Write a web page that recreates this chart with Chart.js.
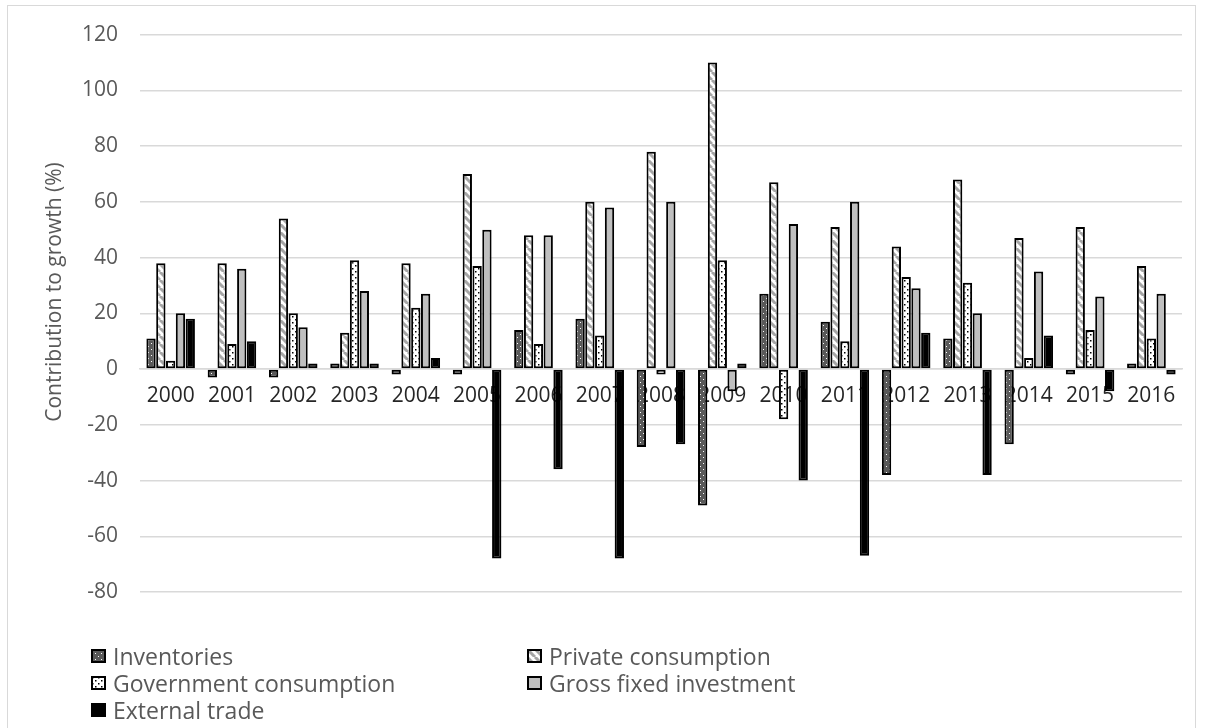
<!DOCTYPE html>
<html>
<head>
<meta charset="utf-8">
<title>Contribution to growth</title>
<script src="https://cdn.jsdelivr.net/npm/chart.js@4.4.1/dist/chart.umd.min.js"></script>
<style>
    body { margin: 0; background: #fff; overflow: hidden; }
    #wrap { position: relative; width: 1205px; height: 728px; overflow: hidden; }
    #frame { position: absolute; left: 7px; top: 5px; width: 1189px; height: 740px; border: 1px solid #d9d9d9; box-sizing: border-box; pointer-events: none; }
    #legend { position: absolute; left: 0; top: 0; font-family: "Open Sans", sans-serif; font-size: 23px; color: #595959; }
    .item { position: absolute; display: flex; align-items: center; line-height: 28px; white-space: nowrap; }
    .item canvas { margin-right: 7px; }
</style>
</head>
<body>
<div id="wrap">
    <canvas id="grafico"></canvas>
    <div id="frame"></div>
    <div id="legend"></div>
</div>
<script>
// Datos
const years = ["2000", "2001", "2002", "2003", "2004", "2005", "2006", "2007", "2008",
               "2009", "2010", "2011", "2012", "2013", "2014", "2015", "2016"];
const inventories = [11, -3, -3, 2, -2, -2, 14, 18, -28, -49, 27, 17, -38, 11, -27, -2, 2];
const privateConsumption = [38, 38, 54, 13, 38, 70, 48, 60, 78, 110, 67, 51, 44, 68, 47, 51, 37];
const governmentConsumption = [3, 9, 20, 39, 22, 37, 9, 12, -2, 39, -18, 10, 33, 31, 4, 14, 11];
const grossFixedInvestment = [20, 36, 15, 28, 27, 50, 48, 58, 60, -8, 52, 60, 29, 20, 35, 26, 27];
const externalTrade = [18, 10, 2, 2, 4, -68, -36, -68, -27, 2, -40, -67, 13, -38, 12, -8, -2];
const yTicks = [-80, -60, -40, -20, 0, 20, 40, 60, 80, 100, 120];
const yTitle = 'Contribution to growth (%)';

// Patrones de relleno (tramas tipo Excel)
function makePattern(kind) {
    const c = document.createElement('canvas');
    const ctx = c.getContext('2d');
    if (kind === 'inventories') {
        c.width = 6; c.height = 6;
        ctx.fillStyle = '#595959';
        ctx.fillRect(0, 0, 6, 6);
        ctx.fillStyle = '#ffffff';
        ctx.fillRect(1, 1, 1, 1);
        ctx.fillRect(4, 4, 1, 1);
    } else if (kind === 'government') {
        c.width = 6; c.height = 6;
        ctx.fillStyle = '#ffffff';
        ctx.fillRect(0, 0, 6, 6);
        ctx.fillStyle = '#000000';
        ctx.fillRect(1, 1, 1.5, 1.5);
        ctx.fillRect(4, 4, 1.5, 1.5);
    } else if (kind === 'private') {
        c.width = 8; c.height = 8;
        ctx.fillStyle = '#ffffff';
        ctx.fillRect(0, 0, 8, 8);
        ctx.strokeStyle = '#a6a6a6';
        ctx.lineWidth = 3;
        [-8, 0, 8].forEach(o => {
            ctx.beginPath();
            ctx.moveTo(o, 0);
            ctx.lineTo(o + 8, 8);
            ctx.stroke();
        });
    }
    return ctx.createPattern(c, 'repeat');
}

const series = [
    { label: "Inventories", data: inventories, fill: makePattern('inventories'), border: '#000' },
    { label: "Private consumption", data: privateConsumption, fill: makePattern('private'), border: '#000' },
    { label: "Government consumption", data: governmentConsumption, fill: makePattern('government'), border: '#000' },
    { label: "Gross fixed investment", data: grossFixedInvestment, fill: '#bfbfbf', border: '#000' },
    { label: "External trade", data: externalTrade, fill: '#000000', border: '#000' }
];

const fontFam = '"Open Sans", sans-serif';

// Título del eje Y dibujado a mano (en el original está algo por encima del centro)
const yTitlePlugin = {
    id: 'yTitle',
    afterDraw(chart) {
        const ctx = chart.ctx;
        ctx.save();
        ctx.translate(55, 292);
        ctx.rotate(-Math.PI / 2);
        ctx.font = '21px ' + fontFam;
        ctx.fillStyle = '#595959';
        ctx.textAlign = 'center';
        ctx.textBaseline = 'middle';
        ctx.fillText(yTitle, 0, 0);
        ctx.restore();
    }
};

new Chart(document.getElementById('grafico'), {
    type: 'bar',
    data: {
        labels: years,
        datasets: series.map(s => ({
            label: s.label,
            data: s.data,
            backgroundColor: s.fill,
            borderColor: s.border,
            borderWidth: 2,
            borderSkipped: false,
            barPercentage: 0.95,
            categoryPercentage: 0.8
        }))
    },
    options: {
        responsive: true,
        maintainAspectRatio: false,
        animation: false,
        layout: { padding: { left: 0, right: 23, top: 34, bottom: 136 } },
        plugins: {
            legend: { display: false },
            tooltip: { enabled: false }
        },
        scales: {
            x: {
                position: { y: 0 },
                grid: { display: false, drawTicks: false },
                border: { display: true, color: '#d9d9d9', width: 1.5 },
                ticks: {
                    color: '#262626',
                    padding: 14,
                    maxRotation: 0,
                    autoSkip: false,
                    font: { size: 21, family: fontFam }
                }
            },
            y: {
                min: -80,
                max: 120,
                afterBuildTicks: scale => { scale.ticks = yTicks.map(v => ({ value: v })); },
                afterFit: scale => { scale.width = 140; },
                grid: { color: '#d9d9d9', lineWidth: 1.5, drawTicks: false },
                border: { display: false },
                ticks: {
                    color: '#595959',
                    padding: 22,
                    font: { size: 21, family: fontFam }
                }
            }
        }
    },
    plugins: [yTitlePlugin]
});

// Leyenda en dos columnas, como en el original
const legendPos = [
    { x: 91, y: 642 }, { x: 527, y: 642 },
    { x: 91, y: 669 }, { x: 527, y: 669 },
    { x: 91, y: 696 }
];
const legendEl = document.getElementById('legend');
series.forEach((s, i) => {
    const item = document.createElement('div');
    item.className = 'item';
    item.style.left = legendPos[i].x + 'px';
    item.style.top = legendPos[i].y + 'px';
    const sw = document.createElement('canvas');
    sw.width = 15; sw.height = 14;
    const sctx = sw.getContext('2d');
    sctx.fillStyle = s.fill;
    sctx.fillRect(0, 0, 15, 14);
    sctx.strokeStyle = s.border;
    sctx.lineWidth = 2;
    sctx.strokeRect(1, 1, 13, 12);
    const txt = document.createElement('span');
    txt.textContent = s.label;
    item.appendChild(sw);
    item.appendChild(txt);
    legendEl.appendChild(item);
});
</script>
</body>
</html>
